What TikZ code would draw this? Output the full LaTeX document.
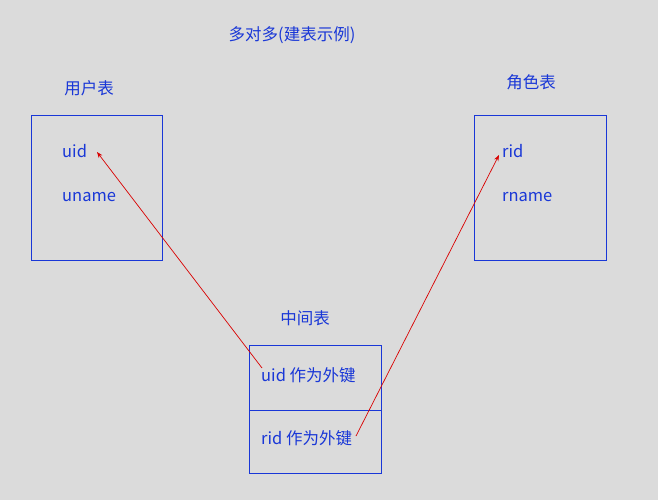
\documentclass[tikz,border=0pt]{standalone}
\usepackage{fontspec}
\usetikzlibrary{arrows.meta}
\setmainfont{Noto Sans CJK SC}
\definecolor{tblue}{RGB}{25,55,215}
\begin{document}
\begin{tikzpicture}[x=1pt,y=-1pt,
  txt/.style={text=tblue,font=\fontsize{16.5}{18}\selectfont,inner sep=0pt},
  box/.style={draw=tblue,line width=0.9pt},
  fk/.style={red!85!black,line width=0.7pt,-{Stealth[length=6pt]}}]
\useasboundingbox[fill=black!14] (0,0) rectangle (658,500);
\node[txt] (title) at (292,35) {多对多(建表示例)};
\node[txt] (ut) at (89,88) {用户表};
\node[txt] (rt) at (531,82) {角色表};
\node[txt] (mt) at (305,318) {中间表};
\draw[box] (31,115) rectangle (162,260);
\draw[box] (474,115) rectangle (606,260);
\draw[box] (249,345) rectangle (381,473);
\draw[box] (249,410) -- (381,410);
\node[txt,anchor=west] (uid) at (62,151) {uid};
\node[txt,anchor=west] (uname) at (62,197) {uname};
\node[txt,anchor=west] (rid) at (502,151) {rid};
\node[txt,anchor=west] (rname) at (502,197) {rname};
\node[txt,anchor=west] (m1) at (261,375) {uid 作为外键};
\node[txt,anchor=west] (m2) at (261,438) {rid 作为外键};
\coordinate (a1) at (262,368);
\coordinate (b1) at (97,152);
\coordinate (a2) at (356,436);
\coordinate (b2) at (499,155);
\draw[fk] (a1) -- (b1);
\draw[fk] (a2) -- (b2);
\end{tikzpicture}
\end{document}
